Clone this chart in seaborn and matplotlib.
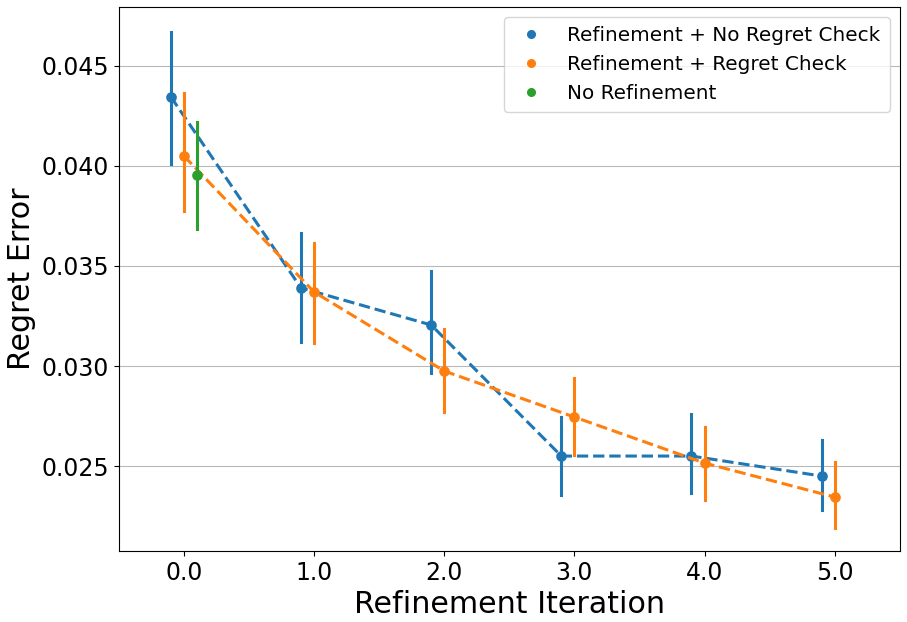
import pandas as pd
import seaborn as sns
import matplotlib.pyplot as plt
from matplotlib.lines import Line2D

methods = ["Refinement + No Regret Check", "Refinement + Regret Check", "No Refinement"]
colors = ["#1f77b4", "#ff7f0e", "#2ca02c"]

iters_a = [0.0, 1.0, 2.0, 3.0, 4.0, 5.0]
mean_a = [0.04345, 0.0339, 0.03205, 0.0255, 0.0255, 0.0245]
lo_a = [0.0401, 0.0312, 0.02965, 0.02355, 0.02365, 0.0228]
hi_a = [0.0467, 0.03665, 0.03475, 0.02745, 0.0276, 0.0263]

iters_b = [0.0, 1.0, 2.0, 3.0, 4.0, 5.0]
mean_b = [0.0405, 0.0337, 0.02975, 0.02745, 0.02515, 0.02345]
lo_b = [0.03775, 0.03115, 0.0277, 0.02555, 0.0233, 0.0219]
hi_b = [0.04365, 0.03615, 0.03185, 0.0294, 0.02695, 0.0252]

iters_c = [0.0]
mean_c = [0.03955]
lo_c = [0.03685]
hi_c = [0.0422]

# long table: low / mean / high rows per point, median = mean, min/max = bar ends
rows = []
for name, it, m, lo, hi in [(methods[0], iters_a, mean_a, lo_a, hi_a),
                            (methods[1], iters_b, mean_b, lo_b, hi_b),
                            (methods[2], iters_c, mean_c, lo_c, hi_c)]:
    for i in range(len(it)):
        for v in (lo[i], m[i], hi[i]):
            rows.append({"iteration": it[i], "method": name, "error": v})
df = pd.DataFrame(rows)

fig, ax = plt.subplots(figsize=(9.07, 6.22), dpi=100)
sns.pointplot(data=df, x="iteration", y="error", hue="method", hue_order=methods,
              palette=colors, estimator="median",
              errorbar=lambda v: (v.min(), v.max()),
              dodge=0.2, linestyles="--", markers="o",
              markersize=6, linewidth=2.2, err_kws={"linewidth": 2.2}, ax=ax)

ax.set_ylim(0.02075, 0.04795)
ax.set_xlabel("Refinement Iteration", fontsize=21.7)
ax.set_ylabel("Regret Error", fontsize=21.7)
ax.tick_params(labelsize=17)
ax.yaxis.grid(True, color="#b8b8b8", linewidth=0.8)
ax.set_axisbelow(True)

handles = [Line2D([], [], marker="o", linestyle="", color=c, markersize=5.5) for c in colors]
ax.legend(handles, methods, loc="upper right", fontsize=14.4, handletextpad=0.9,
          handlelength=1.8, borderpad=0.45, labelspacing=0.5)

fig.subplots_adjust(left=0.131, right=0.992, top=0.989, bottom=0.114)
fig.savefig("out.png", dpi=100)
